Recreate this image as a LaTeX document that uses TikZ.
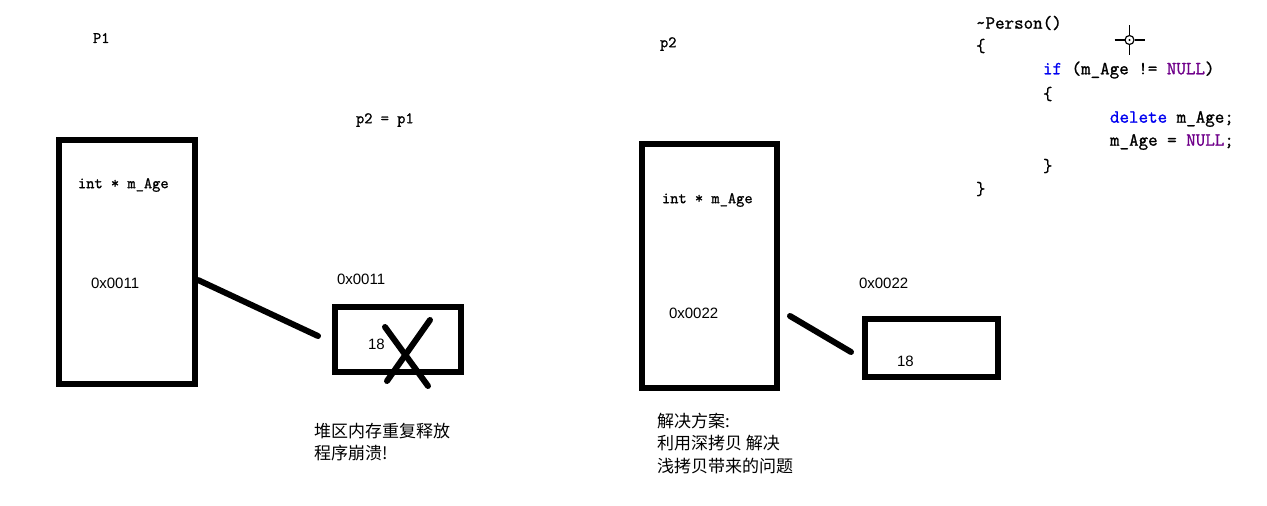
\documentclass[tikz,border=0pt]{standalone}
\usepackage{fontspec}
\newfontfamily\cjk{Noto Sans CJK SC}
\newfontfamily\hexfont{Liberation Sans}
\newfontfamily\monofont[AutoFakeBold=1.2]{Latin Modern Mono}
\usepackage{tikz}
\definecolor{kwblue}{RGB}{0,0,240}
\definecolor{nullpurple}{RGB}{111,0,138}

\begin{document}
\begin{tikzpicture}
	[x=1pt,y=-1pt,
	every node/.style={inner sep=0pt,outer sep=0pt},
	memblock/.style={draw=black,line width=6.5pt,rectangle},
	link/.style={line width=6pt,line cap=round},
	label/.style={font=\fontsize{16}{18}\selectfont\monofont\bfseries,anchor=west},
	hexval/.style={font=\fontsize{15}{17}\selectfont\hexfont,anchor=west},
	note/.style={font=\fontsize{17}{22.5}\selectfont\cjk,anchor=north west,align=left},
	code/.style={font=\fontsize{18.5}{20}\selectfont\monofont\bfseries,anchor=west}]
	
	\useasboundingbox (0,0) rectangle (1267,506);
	
	% shallow copy
	\node[label] (p1name) at (93,38) {P1};
	\node[label] (assign) at (356,120) {p2 = p1};
	\node[memblock,minimum width=136pt,minimum height=244pt] (obj1) at (127,262) {};
	\node[label] (ptr1) at (78,185) {int * m\_Age};
	\node[hexval] (addr1) at (91,283) {0x0011};
	\node[memblock,minimum width=126pt,minimum height=65pt] (heap1) at (398,339.5) {};
	\node[hexval] (haddr1) at (337,279) {0x0011};
	\node[hexval] (val1) at (368,344) {18};
	\coordinate (from1) at (198,280);
	\coordinate (to1) at (318,336);
	\draw[link] (from1) -- (to1);
	\coordinate (xa) at (385,327);
	\coordinate (xb) at (428,386);
	\coordinate (xc) at (430,320);
	\coordinate (xd) at (387,381);
	\draw[link] (xa) -- (xb);
	\draw[link] (xc) -- (xd);
	\node[note] (crash) at (314,423) {堆区内存重复释放\\程序崩溃!};
	
	% deep copy
	\node[label] (p2name) at (660,44) {p2};
	\node[memblock,minimum width=135pt,minimum height=244pt] (obj2) at (709.5,266) {};
	\node[label] (ptr2) at (662,200) {int * m\_Age};
	\node[hexval] (addr2) at (669,313) {0x0022};
	\node[memblock,minimum width=133pt,minimum height=58pt] (heap2) at (931.5,348) {};
	\node[hexval] (haddr2) at (859,283) {0x0022};
	\node[hexval] (val2) at (897,361) {18};
	\coordinate (from2) at (790,316);
	\coordinate (to2) at (851,352);
	\draw[link] (from2) -- (to2);
	\node[note] (fix) at (657,413) {解决方案:\\利用深拷贝 解决\\浅拷贝带来的问题};
	
	% destructor
	\node[code] (c1) at (976,23) {\textasciitilde Person()};
	\node[code] (c2) at (976,46) {\{};
	\node[code] (c3) at (1043,70) {\textcolor{kwblue}{if} (m\_Age != \textcolor{nullpurple}{NULL})};
	\node[code] (c4) at (1043,94) {\{};
	\node[code] (c5) at (1110,119) {\textcolor{kwblue}{delete} m\_Age;};
	\node[code] (c6) at (1110,142) {m\_Age = \textcolor{nullpurple}{NULL};};
	\node[code] (c7) at (1043,166) {\}};
	\node[code] (c8) at (976,189) {\}};
	
	% cursor
	\coordinate (cur) at (1129.5,40);
	\draw[line width=1.5pt] (cur) ++(0,-15) -- ++(0,10) (cur) ++(0,5) -- ++(0,10)
		(cur) ++(-15,0) -- ++(10,0) (cur) ++(5,0) -- ++(10,0);
	\draw[line width=1.2pt] (cur) circle (4.5);
	\fill (cur) circle (1.2);
\end{tikzpicture}
\end{document}
